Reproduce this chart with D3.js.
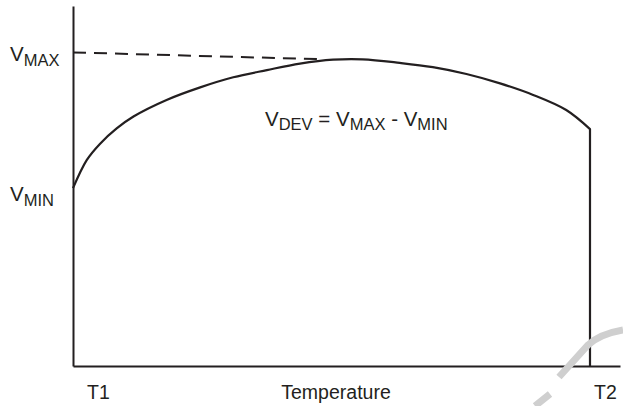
<!DOCTYPE html>
<html>
<head>
<meta charset="utf-8">
<script src="https://d3js.org/d3.v7.min.js"></script>
<style>
  body { margin: 0; background: #fff; }
  svg text { font-family: "Liberation Sans", Arial, sans-serif; fill: #231f20; }
</style>
</head>
<body>
<div id="chart"></div>
<script>
// curve: temperature (T1 = 0, T2 = 100) vs voltage (0..100 of plot height)
const temps = [0, 2.65, 5.2, 8.45, 11.7, 18.1, 24.6, 31.0, 37.5, 43.9, 50.3, 56.0, 63.2, 69.6, 76.1, 82.6, 89.0, 95.4, 100];
const volts = [49.4, 57.2, 61.7, 66.0, 69.3, 73.9, 77.4, 80.2, 82.2, 84.0, 85.1, 85.2, 84.2, 83.0, 81.1, 78.5, 75.3, 71.1, 65.8];
// dashed V_MAX guide
const maxGuideT = [0, 48.5];
const maxGuideV = [87.1, 85.2];
const xLabels = ["T1", "T2"];
const xLabelPos = [0, 100];

const width = 623, height = 406;
const ink = "#231f20";

const svg = d3.select("#chart").append("svg")
  .attr("width", width)
  .attr("height", height);

const x = d3.scaleLinear().domain([0, 100]).range([73, 590]);
const y = d3.scaleLinear().domain([0, 100]).range([366, 6]);
// axis line runs a bit past T2
const xAxisScale = d3.scaleLinear().domain([0, 105.8]).range([73, 620]);

let yAxis = svg.append("g")
  .attr("transform", `translate(${x(0)},0)`)
  .call(d3.axisLeft(y).tickValues([]).tickSizeOuter(0));
let xAxis = svg.append("g")
  .attr("transform", `translate(0,${y(0)})`)
  .call(d3.axisBottom(xAxisScale).tickValues([]).tickSizeOuter(0));
svg.selectAll(".domain").attr("stroke", ink).attr("stroke-width", 2);

let pts = temps.map((t, i) => [t, volts[i]]);
let line = d3.line()
  .x(d => x(d[0]))
  .y(d => y(d[1]))
  .curve(d3.curveCatmullRom.alpha(0.5));

// curve plus the drop at T2
svg.append("path")
  .attr("d", line(pts) + `L${x(100)},${y(0)}`)
  .attr("fill", "none")
  .attr("stroke", ink)
  .attr("stroke-width", 2.2);

svg.append("line")
  .attr("x1", x(maxGuideT[0])).attr("y1", y(maxGuideV[0]))
  .attr("x2", x(maxGuideT[1])).attr("y2", y(maxGuideV[1]))
  .attr("stroke", ink)
  .attr("stroke-width", 2)
  .attr("stroke-dasharray", "13,8");

// V labels with subscripts
function vLabel(px, py, sub) {
  let t = svg.append("text").attr("x", px).attr("y", py).style("font-size", "20.5px");
  t.append("tspan").text("V");
  t.append("tspan").attr("dy", 5).style("font-size", "16.5px").text(sub);
  return t;
}
vLabel(10, 61, "MAX");
vLabel(10, 201, "MIN");

// formula
let f = svg.append("text").attr("x", 265).attr("y", 126).style("font-size", "20.5px");
f.append("tspan").text("V");
f.append("tspan").attr("dy", 4).style("font-size", "16.5px").text("DEV");
f.append("tspan").attr("dy", -4).text(" = V");
f.append("tspan").attr("dy", 4).style("font-size", "16.5px").text("MAX");
f.append("tspan").attr("dy", -4).text(" - V");
f.append("tspan").attr("dy", 4).style("font-size", "16.5px").text("MIN");

// x labels
svg.selectAll(".tlab").data(xLabels).enter()
  .append("text")
  .attr("class", "tlab")
  .attr("x", (d, i) => x(xLabelPos[i]) + (i == 0 ? 14 : 4))
  .attr("y", 399)
  .style("font-size", "19.5px")
  .text(d => d);

svg.append("text")
  .attr("x", 336)
  .attr("y", 399)
  .attr("text-anchor", "middle")
  .style("font-size", "19.5px")
  .text("Temperature");

// faint watermark stroke in the bottom right corner
svg.append("path")
  .attr("d", "M535,406L550,394M559,377L588,345Q600,334 623,330")
  .attr("fill", "none")
  .attr("stroke", "#cfcfcf")
  .attr("stroke-width", 7);
</script>
</body>
</html>
